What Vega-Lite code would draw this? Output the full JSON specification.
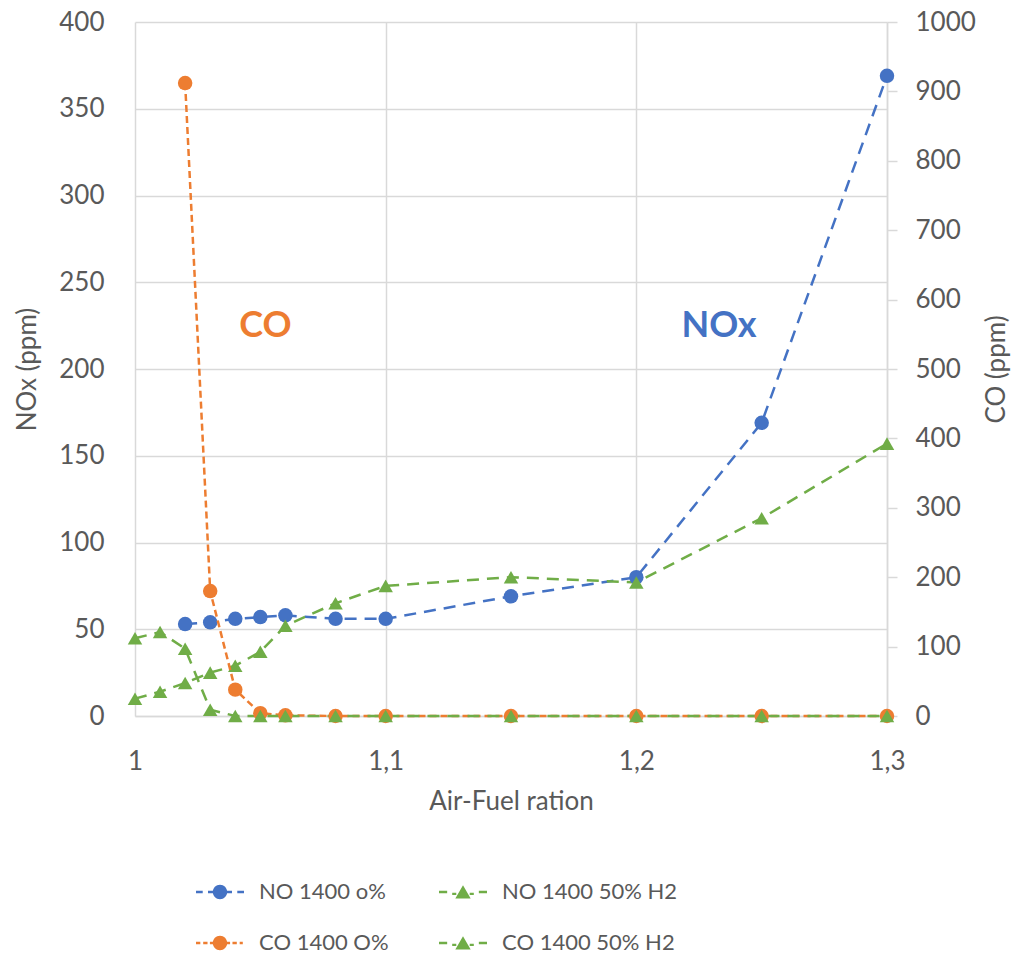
{
  "$schema": "https://vega.github.io/schema/vega-lite/v6.json",
  "width": 752,
  "height": 694,
  "autosize": {"type": "none"},
  "padding": {"left": 135, "top": 22, "right": 138, "bottom": 244},
  "background": "white",
  "config": {
    "font": "Lato",
    "view": {"stroke": null},
    "axis": {
      "labelFont": "Lato", "titleFont": "Lato",
      "labelFontSize": 26, "titleFontSize": 26,
      "labelColor": "#595959", "titleColor": "#595959",
      "titleFontWeight": "normal"
    }
  },
  "datasets": {
    "no": [
      {"series": "NO 1400 o%", "afr": 1.02, "nox": 53},
      {"series": "NO 1400 o%", "afr": 1.03, "nox": 54},
      {"series": "NO 1400 o%", "afr": 1.04, "nox": 56},
      {"series": "NO 1400 o%", "afr": 1.05, "nox": 57},
      {"series": "NO 1400 o%", "afr": 1.06, "nox": 58},
      {"series": "NO 1400 o%", "afr": 1.08, "nox": 56},
      {"series": "NO 1400 o%", "afr": 1.1, "nox": 56},
      {"series": "NO 1400 o%", "afr": 1.15, "nox": 69},
      {"series": "NO 1400 o%", "afr": 1.2, "nox": 80},
      {"series": "NO 1400 o%", "afr": 1.25, "nox": 169},
      {"series": "NO 1400 o%", "afr": 1.3, "nox": 369},
      {"series": "NO 1400 50% H2", "afr": 1.0, "nox": 10},
      {"series": "NO 1400 50% H2", "afr": 1.01, "nox": 14},
      {"series": "NO 1400 50% H2", "afr": 1.02, "nox": 19},
      {"series": "NO 1400 50% H2", "afr": 1.03, "nox": 25},
      {"series": "NO 1400 50% H2", "afr": 1.04, "nox": 29},
      {"series": "NO 1400 50% H2", "afr": 1.05, "nox": 37},
      {"series": "NO 1400 50% H2", "afr": 1.06, "nox": 52},
      {"series": "NO 1400 50% H2", "afr": 1.08, "nox": 65},
      {"series": "NO 1400 50% H2", "afr": 1.1, "nox": 75},
      {"series": "NO 1400 50% H2", "afr": 1.15, "nox": 80},
      {"series": "NO 1400 50% H2", "afr": 1.2, "nox": 77},
      {"series": "NO 1400 50% H2", "afr": 1.25, "nox": 114},
      {"series": "NO 1400 50% H2", "afr": 1.3, "nox": 157}
    ],
    "co": [
      {"series": "CO 1400 O%", "afr": 1.02, "co": 912},
      {"series": "CO 1400 O%", "afr": 1.03, "co": 180},
      {"series": "CO 1400 O%", "afr": 1.04, "co": 38},
      {"series": "CO 1400 O%", "afr": 1.05, "co": 4},
      {"series": "CO 1400 O%", "afr": 1.06, "co": 1},
      {"series": "CO 1400 O%", "afr": 1.08, "co": 0},
      {"series": "CO 1400 O%", "afr": 1.1, "co": 0},
      {"series": "CO 1400 O%", "afr": 1.15, "co": 0},
      {"series": "CO 1400 O%", "afr": 1.2, "co": 0},
      {"series": "CO 1400 O%", "afr": 1.25, "co": 0},
      {"series": "CO 1400 O%", "afr": 1.3, "co": 0},
      {"series": "CO 1400 50% H2", "afr": 1.0, "co": 112},
      {"series": "CO 1400 50% H2", "afr": 1.01, "co": 121},
      {"series": "CO 1400 50% H2", "afr": 1.02, "co": 97},
      {"series": "CO 1400 50% H2", "afr": 1.03, "co": 9},
      {"series": "CO 1400 50% H2", "afr": 1.04, "co": 0},
      {"series": "CO 1400 50% H2", "afr": 1.05, "co": 0},
      {"series": "CO 1400 50% H2", "afr": 1.06, "co": 0},
      {"series": "CO 1400 50% H2", "afr": 1.08, "co": 0},
      {"series": "CO 1400 50% H2", "afr": 1.1, "co": 0},
      {"series": "CO 1400 50% H2", "afr": 1.15, "co": 0},
      {"series": "CO 1400 50% H2", "afr": 1.2, "co": 0},
      {"series": "CO 1400 50% H2", "afr": 1.25, "co": 0},
      {"series": "CO 1400 50% H2", "afr": 1.3, "co": 0}
    ],
    "notes": [
      {"label": "CO", "afr": 1.052, "nox": 225, "kind": "co"},
      {"label": "NOx", "afr": 1.233, "nox": 225, "kind": "no"}
    ]
  },
  "encoding": {
    "x": {
      "field": "afr", "type": "quantitative",
      "scale": {"domain": [1, 1.3], "nice": false, "zero": false},
      "axis": {
        "title": "Air-Fuel ration",
        "values": [1, 1.1, 1.2, 1.3],
        "labelExpr": "replace(format(datum.value, '.1~f'), '.', ',')",
        "grid": true, "gridColor": "#d9d9d9", "gridWidth": 1.5,
        "domain": true, "domainColor": "#d9d9d9", "domainWidth": 1.5,
        "ticks": false, "tickSize": 0,
        "labelPadding": 32, "titlePadding": 14,
        "labelFlush": false
      }
    }
  },
  "layer": [
    {
      "encoding": {
        "y": {
          "field": "nox", "type": "quantitative",
          "scale": {"domain": [0, 400], "nice": false},
          "axis": {
            "title": "NOx (ppm)", "orient": "left",
            "values": [0, 50, 100, 150, 200, 250, 300, 350, 400],
            "grid": true, "gridColor": "#d9d9d9", "gridWidth": 1.5,
            "domain": false, "ticks": false, "tickSize": 0,
            "labelPadding": 31, "titlePadding": 18
          }
        }
      },
      "layer": [
        {
          "data": {"name": "no"},
          "mark": {"type": "line", "strokeWidth": 2.5, "strokeDash": [12, 8]},
          "encoding": {
            "detail": {"field": "series"},
            "color": {
              "field": "series", "type": "nominal",
              "scale": {
                "domain": ["NO 1400 o%", "NO 1400 50% H2", "CO 1400 O%", "CO 1400 50% H2"],
                "range": ["#4472C4", "#70AD47", "#ED7D31", "#70AD47"]
              },
              "legend": {
                "title": null, "orient": "none", "legendX": 61, "legendY": 846,
                "columns": 2, "direction": "horizontal",
                "symbolSize": 2304, "labelFontSize": 22, "labelFont": "Lato", "labelColor": "#595959",
                "labelLimit": 400,
                "labelOffset": 15, "columnPadding": 50, "rowPadding": 16,
                "encode": {
                  "symbols": {
                    "update": {
                      "shape": {"signal": "datum.value === 'NO 1400 o%' ? 'M-1,-0.05H-0.72V0.05H-1Z M-0.5,-0.05H-0.2V0.05H-0.5Z M0.2,-0.05H0.5V0.05H0.2Z M0.72,-0.05H1V0.05H0.72Z M0.3,0A0.3,0.3 0 1 1 -0.3,0A0.3,0.3 0 1 1 0.3,0Z' : datum.value === 'CO 1400 O%' ? 'M-1,-0.05H-0.82V0.05H-1Z M-0.7,-0.05H-0.52V0.05H-0.7Z M-0.42,-0.05H-0.2V0.05H-0.42Z M0.2,-0.05H0.42V0.05H0.2Z M0.52,-0.05H0.7V0.05H0.52Z M0.82,-0.05H0.95V0.05H0.82Z M0.3,0A0.3,0.3 0 1 1 -0.3,0A0.3,0.3 0 1 1 0.3,0Z' : 'M-1,-0.05H-0.66V0.05H-1Z M-0.45,0.03H-0.28V0.13H-0.45Z M0.28,0.03H0.45V0.13H0.28Z M0.66,-0.05H1V0.05H0.66Z M0,-0.28L0.32,0.27L-0.32,0.27Z'"},
                      "fill": {"signal": "scale('color', datum.value)"},
                      "stroke": {"value": "transparent"},
                      "strokeWidth": {"value": 0},
                      "strokeDash": {"value": []},
                      "opacity": {"value": 1}
                    }
                  }
                }
              }
            }
          }
        },
        {
          "data": {"name": "no"},
          "transform": [{"filter": "datum.series === 'NO 1400 o%'"}],
          "mark": {"type": "point", "shape": "circle", "filled": true, "opacity": 1, "size": 210},
          "encoding": {"color": {"field": "series", "type": "nominal"}}
        },
        {
          "data": {"name": "no"},
          "transform": [{"filter": "datum.series === 'NO 1400 50% H2'"}],
          "mark": {"type": "point", "shape": "triangle-up", "filled": true, "opacity": 1, "size": 210},
          "encoding": {"color": {"field": "series", "type": "nominal"}}
        },
        {
          "data": {"name": "notes"},
          "transform": [{"filter": "datum.kind === 'co'"}],
          "mark": {"type": "text", "font": "Lato", "fontWeight": "bold", "fontSize": 36, "align": "center", "baseline": "middle", "color": "#ED7D31"},
          "encoding": {"text": {"field": "label"}}
        },
        {
          "data": {"name": "notes"},
          "transform": [{"filter": "datum.kind === 'no'"}],
          "mark": {"type": "text", "font": "Lato", "fontWeight": "bold", "fontSize": 36, "align": "center", "baseline": "middle", "color": "#4472C4"},
          "encoding": {"text": {"field": "label"}}
        }
      ]
    },
    {
      "data": {"name": "co"},
      "encoding": {
        "y": {
          "field": "co", "type": "quantitative",
          "scale": {"domain": [0, 1000], "nice": false},
          "axis": {
            "title": "CO (ppm)", "orient": "right", "titleAngle": 270,
            "values": [0, 100, 200, 300, 400, 500, 600, 700, 800, 900, 1000],
            "format": "d",
            "grid": false,
            "domain": true, "domainColor": "#d9d9d9", "domainWidth": 1.5,
            "ticks": true, "tickSize": 10, "tickColor": "#d9d9d9", "tickWidth": 1.5,
            "labelPadding": 18, "titlePadding": 34
          }
        }
      },
      "layer": [
        {
          "mark": {"type": "line", "strokeWidth": 2.5},
          "encoding": {
            "detail": {"field": "series"},
            "color": {"field": "series", "type": "nominal"},
            "strokeDash": {
              "field": "series", "type": "nominal",
              "scale": {"domain": ["CO 1400 O%", "CO 1400 50% H2"], "range": [[7, 4], [12, 8]]},
              "legend": null
            }
          }
        },
        {
          "transform": [{"filter": "datum.series === 'CO 1400 O%'"}],
          "mark": {"type": "point", "shape": "circle", "filled": true, "opacity": 1, "size": 210},
          "encoding": {"color": {"field": "series", "type": "nominal"}}
        },
        {
          "transform": [{"filter": "datum.series === 'CO 1400 50% H2'"}],
          "mark": {"type": "point", "shape": "triangle-up", "filled": true, "opacity": 1, "size": 210},
          "encoding": {"color": {"field": "series", "type": "nominal"}}
        }
      ]
    }
  ],
  "resolve": {"scale": {"y": "independent", "color": "shared", "strokeDash": "independent"}}
}
